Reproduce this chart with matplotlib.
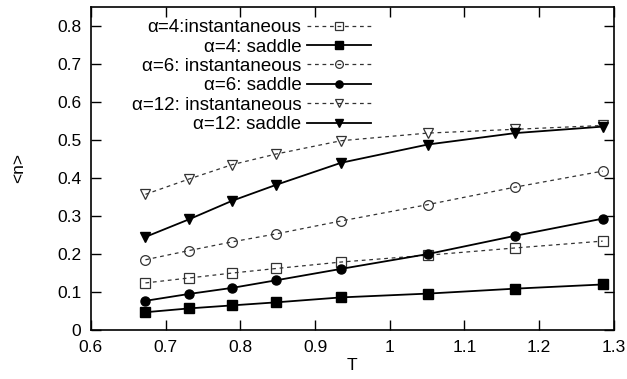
import numpy as np
import matplotlib
matplotlib.use("Agg")
import matplotlib.pyplot as plt
from matplotlib.ticker import FuncFormatter

plt.rcParams["font.family"] = ["Liberation Sans", "DejaVu Sans"]

T = [0.673, 0.731, 0.789, 0.848, 0.935, 1.051, 1.168, 1.285]

a4_inst = [0.124, 0.137, 0.150, 0.162, 0.179, 0.197, 0.216, 0.234]
a4_saddle = [0.047, 0.057, 0.065, 0.073, 0.086, 0.096, 0.109, 0.120]
a6_inst = [0.185, 0.209, 0.232, 0.253, 0.287, 0.330, 0.376, 0.418]
a6_saddle = [0.077, 0.095, 0.111, 0.131, 0.161, 0.200, 0.248, 0.293]
a12_inst = [0.357, 0.397, 0.435, 0.463, 0.498, 0.518, 0.528, 0.538]
a12_saddle = [0.245, 0.291, 0.340, 0.382, 0.440, 0.488, 0.518, 0.535]

labels = [
    "\u03b1=4:instantaneous",
    "\u03b1=4: saddle",
    "\u03b1=6: instantaneous",
    "\u03b1=6: saddle",
    "\u03b1=12: instantaneous",
    "\u03b1=12: saddle",
]

series = [a4_inst, a4_saddle, a6_inst, a6_saddle, a12_inst, a12_saddle]
markers = ["s", "s", "o", "o", "v", "v"]
filled = [False, True, False, True, False, True]

fig = plt.figure(figsize=(6.27, 3.79), dpi=100)
ax = fig.add_axes([0.145, 0.129, 0.834, 0.853])

for vals, lab, mk, fl in zip(series, labels, markers, filled):
    if fl:
        ax.plot(T, vals, color="black", lw=1.3, ls="-", marker=mk,
                markersize=6.5, markerfacecolor="black",
                markeredgecolor="black", label=lab)
    else:
        ax.plot(T, vals, color="#333333", lw=0.9, ls=(0, (3, 3)), marker=mk,
                markersize=7, markerfacecolor="none",
                markeredgecolor="#333333", markeredgewidth=0.9, label=lab)

ax.set_xlim(0.6, 1.3)
ax.set_ylim(0, 0.85)
ax.set_xticks(np.arange(0.6, 1.31, 0.1))
ax.set_yticks(np.arange(0, 0.81, 0.1))
ax.xaxis.set_major_formatter(FuncFormatter(lambda v, p: "%g" % round(v, 2)))
ax.yaxis.set_major_formatter(FuncFormatter(lambda v, p: "%g" % round(v, 2)))
ax.tick_params(direction="in", length=7, width=1, top=True, right=True,
               labelsize=12.5, pad=7)
for s in ax.spines.values():
    s.set_linewidth(1.2)

ax.set_xlabel("T", fontsize=12.5, labelpad=2)
ax.set_ylabel("<n>", fontsize=12.5, labelpad=22)

leg = ax.legend(loc="upper right", bbox_to_anchor=(0.535, 0.962),
                markerfirst=False, frameon=False, fontsize=13.5,
                handlelength=3.4, handletextpad=0.3, labelspacing=0.12,
                markerscale=0.8, borderpad=0, borderaxespad=0)

fig.savefig("out.png", dpi=100)
